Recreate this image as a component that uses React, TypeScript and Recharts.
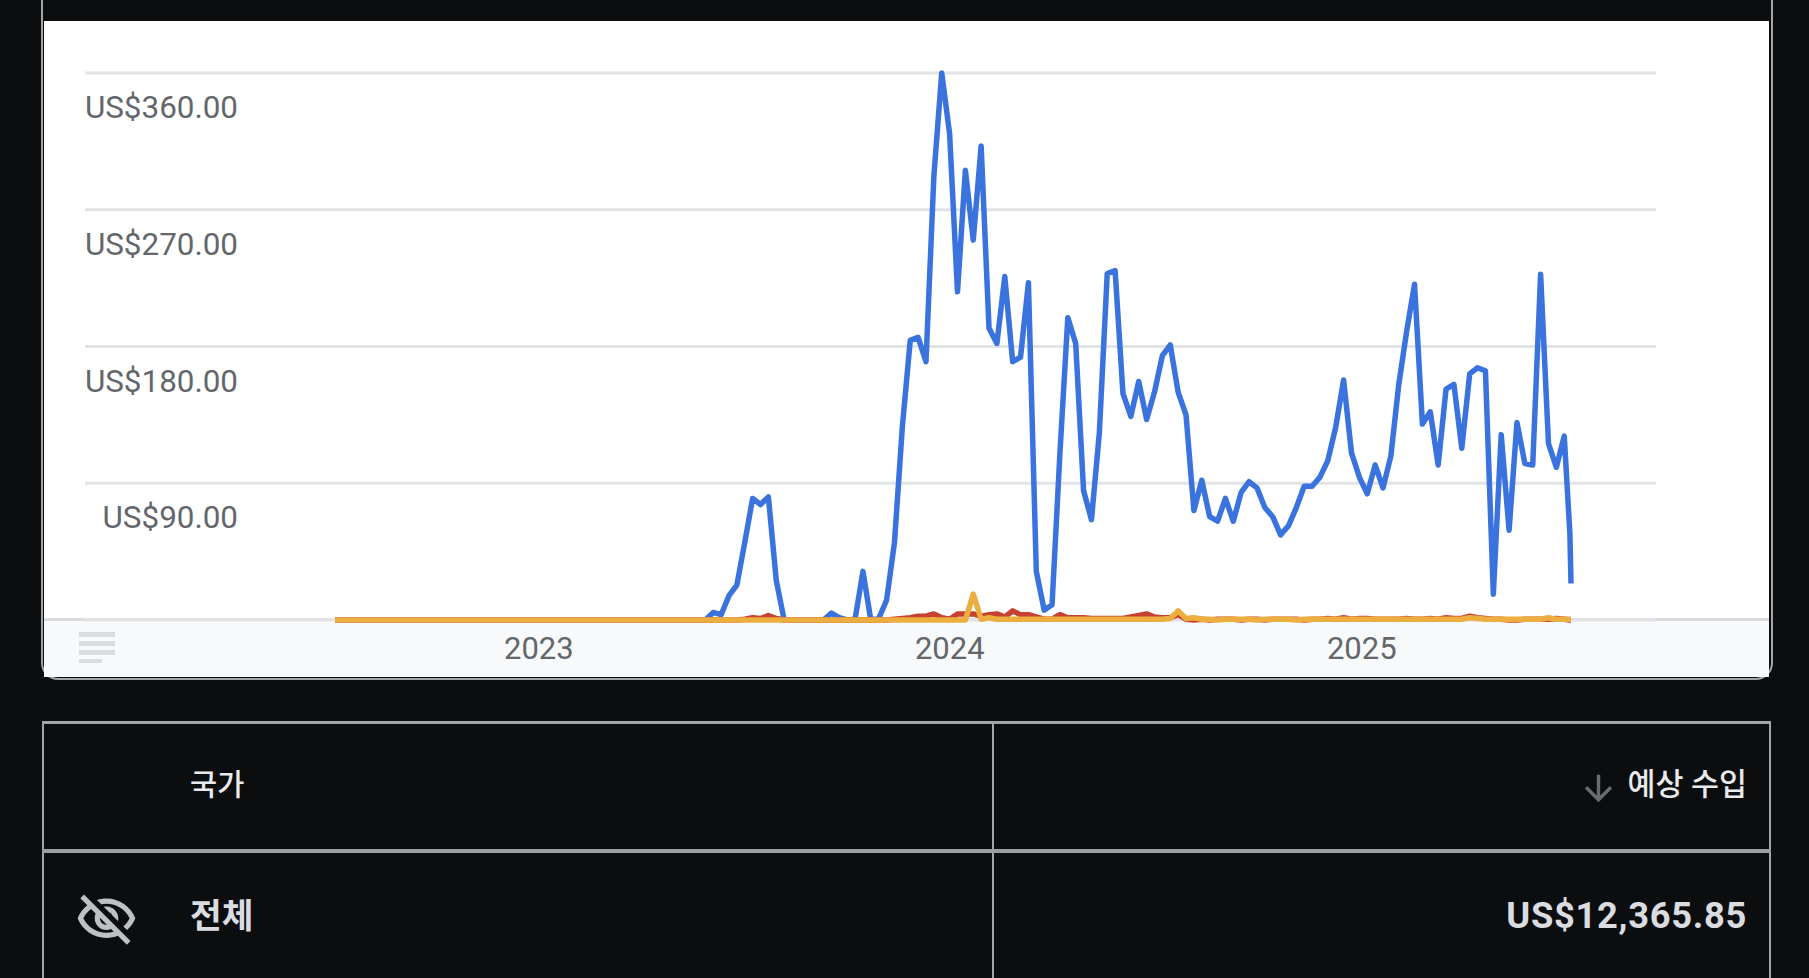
import { LineChart, Line, XAxis, YAxis, CartesianGrid } from 'recharts'

// weekly estimated revenue per series, 10 values per row
const blueValues = [
    0, 0, 0, 0, 0, 0, 0, 0, 0, 0,
    0, 0, 0, 0, 0, 0, 0, 0, 0, 0,
    0, 0, 0, 0, 0, 0, 0, 0, 0, 0,
    0, 0, 0, 0, 0, 0, 0, 0, 0, 0,
    0, 0, 0, 0, 0, 0, 0, 0, 5, 3.5,
    16, 23, 51, 80, 76, 81, 26, 0, 0, 0,
    0, 0, 0, 4.5, 1.5, 0, 0.5, 32, 0, 1,
    13, 51, 127, 184, 186, 170, 292, 360, 320, 216,
    296, 250, 312, 192, 182, 226, 170, 173, 222, 32,
    6.5, 10, 110, 199, 182, 85, 66, 123, 228, 230,
    149, 134, 157, 132, 150, 174, 181, 150, 135, 72,
    92, 68, 65, 80, 65, 84, 91, 87, 74, 68,
    56, 62, 74, 88, 88, 94, 105, 127, 158, 110,
    94, 83, 102, 87, 108, 155, 190, 221, 129, 137,
    102, 152, 155, 113, 162, 166, 164, 17, 122, 59,
    130, 103, 102, 227.5, 116, 100.5, 121, 57, 24,
]

const redValues = [
    0, 0, 0, 0, 0, 0, 0, 0, 0, 0,
    0, 0, 0, 0, 0, 0, 0, 0, 0, 0,
    0, 0, 0, 0, 0, 0, 0, 0, 0, 0,
    0, 0, 0, 0, 0, 0, 0, 0, 0, 0,
    0, 0, 0, 0, 0, 0, 0, 0, 0, 0,
    0, 0, 0.5, 1.5, 1, 3, 1, 0, 0, 0,
    0, 0, 0, 0, 0, 0, 0, 0, 0, 0,
    0, 0.5, 1, 1.5, 2.5, 2.5, 4, 1.5, 0.5, 4,
    4, 4, 2.5, 3.5, 4, 2, 6, 3.5, 3.5, 2,
    0.5, 0.5, 3.5, 1.5, 1.5, 1.5, 1, 1, 1, 1,
    1, 2, 3, 4, 2, 1.5, 1.5, 3.5, 0.5, 0,
    0.5, 0, 0.5, 0.5, 0.5, 0, 0.5, 0.5, 0, 0.5,
    0.5, 0.5, 0.5, 0, 0.5, 0.5, 1, 0.5, 1.5, 0.5,
    1, 1, 0.5, 0.5, 0.5, 0.5, 1, 0.5, 0.5, 1,
    0.5, 1.5, 1, 1, 2.5, 1.5, 1, 0.5, 0.5, 0,
    0, 0.5, 0.5, 0.5, 0.5, 1, 0.5, 0, 0,
]

const orangeValues = [
    0, 0, 0, 0, 0, 0, 0, 0, 0, 0,
    0, 0, 0, 0, 0, 0, 0, 0, 0, 0,
    0, 0, 0, 0, 0, 0, 0, 0, 0, 0,
    0, 0, 0, 0, 0, 0, 0, 0, 0, 0,
    0, 0, 0, 0, 0, 0, 0, 0, 0, 0,
    0, 0, 0, 0, 0, 0, 0, 0, 0, 0,
    0, 0, 0, 0, 0, 0, 0, 0, 0, 0,
    0, 0, 0, 0, 0, 0, 0, 0, 0, 0,
    0, 17, 0.5, 1.5, 0.5, 0.5, 0.5, 0.5, 0.5, 0.5,
    0.5, 0.5, 0.5, 0.5, 0.5, 0.5, 0.5, 0.5, 0.5, 0.5,
    0.5, 0.5, 0.5, 0.5, 0.5, 0.5, 1, 6, 1, 1.5,
    0.5, 0.5, 0, 0.5, 0.5, 0.5, 0.5, 0, 0.5, 0.5,
    0.5, 0.5, 0, 0.5, 0.5, 0.5, 0.5, 0.5, 0.5, 0.5,
    0.5, 0.5, 0.5, 0.5, 0.5, 0.5, 0.5, 0.5, 0.5, 0.5,
    0.5, 0.5, 0.5, 0.5, 1.5, 1, 0.5, 0.5, 0.5, 0.5,
    0.5, 0.5, 0.5, 0.5, 1.5, 0.5, 0.5, 0.5, 0.5,
]

const dayMs = 24 * 3600 * 1000
const firstWeek = Date.UTC(2022, 6, 3)
// the last two points are partial weeks, so they are only some days apart
const lastDays = [1097, 1098]
const yearTicks = [Date.UTC(2023, 0, 1), Date.UTC(2024, 0, 1), Date.UTC(2025, 0, 1)]
const valueTicks = [0, 90, 180, 270, 360]

const chartData = blueValues.map((blue, i) => ({
    day: firstWeek + (i <= 156 ? i * 7 : lastDays[i - 157]) * dayMs,
    blue,
    red: redValues[i],
    orange: orangeValues[i],
}))

const font = 'Roboto, "Noto Sans CJK KR", sans-serif'
const border = '#a3a4a6'

// the label sits under its grid line, not beside it
const ValueTick = ({ y, payload }: any) =>
    payload.value === 0 ? null : (
        <text x={238} y={y + 45} textAnchor="end" fontFamily={font} fontSize={31.4} fill="#63676c">
            {`US$${payload.value}.00`}
        </text>
    )

const box = (left: number, top: number, width: number, height: number, background: string): React.CSSProperties => ({
    position: 'absolute', left, top, width, height, background,
})

const App = () => {
    return (
        <div style={{ position: 'fixed', left: 0, top: 0, width: 1809, height: 978, background: '#0c0d0e', overflow: 'hidden', fontFamily: font }}>
            {/* chart card */}
            <div style={{ position: 'absolute', left: 41, top: -20, width: 1732, height: 700, border: `2px solid ${border}`, borderRadius: 17, boxSizing: 'border-box' }} />
            <div style={box(44, 21, 1725, 599, '#ffffff')} />
            <div style={box(44, 620, 1725, 57, '#f8f9fa')} />
            <div style={box(44, 618, 1725, 3, '#dadce0')} />
            <div style={box(79, 632, 36, 5, '#dadce0')} />
            <div style={box(79, 641, 36, 5, '#dadce0')} />
            <div style={box(79, 650, 36, 5, '#dadce0')} />
            <div style={box(79, 659, 23, 4, '#dadce0')} />

            <div style={{ position: 'absolute', left: 0, top: 0 }}>
                <LineChart width={1809} height={680} data={chartData} margin={{ top: 73, right: 153, left: 84, bottom: 0 }}>
                    <CartesianGrid horizontal vertical={false} stroke="#e2e3e4" strokeWidth={3} />
                    <XAxis
                        dataKey="day"
                        type="number"
                        domain={['dataMin', 'dataMax']}
                        ticks={yearTicks}
                        padding={{ left: 250, right: 85 }}
                        height={60}
                        axisLine={false}
                        tickLine={false}
                        tickFormatter={(v: number) => String(new Date(v).getUTCFullYear())}
                        tick={{ fontFamily: font, fontSize: 31, fill: '#63676c', dy: 9, dx: -1 }}
                        interval={0}
                    />
                    <YAxis
                        width={1}
                        domain={[0, 360]}
                        ticks={valueTicks}
                        axisLine={false}
                        tickLine={false}
                        tick={ValueTick}
                    />
                    <Line type="linear" dataKey="blue" stroke="#3a73de" strokeWidth={5.5} strokeLinejoin="round" dot={false} isAnimationActive={false} />
                    <Line type="linear" dataKey="red" stroke="#c8402f" strokeWidth={5.5} strokeLinejoin="round" dot={false} isAnimationActive={false} />
                    <Line type="linear" dataKey="orange" stroke="#edae40" strokeWidth={5.5} strokeLinejoin="round" dot={false} isAnimationActive={false} />
                </LineChart>
            </div>

            {/* table */}
            <div style={box(42, 721, 1729, 3, border)} />
            <div style={box(42, 721, 2, 257, border)} />
            <div style={box(1769, 721, 2, 257, border)} />
            <div style={box(992, 721, 2, 257, border)} />
            <div style={box(42, 849, 1729, 4, '#9d9ea0')} />

            <div style={{ position: 'absolute', left: 190, top: 765, fontSize: 29.5, lineHeight: '40px', fontWeight: 500, color: '#e8eaed' }}>국가</div>
            <div style={{ position: 'absolute', right: 62, top: 765, fontSize: 30.4, lineHeight: '40px', fontWeight: 500, color: '#e8eaed', whiteSpace: 'nowrap' }}>예상 수입</div>
            <svg style={{ position: 'absolute', left: 1578, top: 768 }} width={41} height={41} viewBox="0 0 24 24">
                <path fill="#6a6b6d" d="M20 12l-1.41-1.41L13 16.17V4h-2v12.17l-5.58-5.59L4 12l8 8 8-8z" />
            </svg>

            <svg style={{ position: 'absolute', left: 75, top: 888 }} width={63} height={63} viewBox="0 0 24 24">
                <path fill="#bdc1c6" d="M12 6c3.79 0 7.17 2.13 8.82 5.5-.59 1.22-1.42 2.27-2.41 3.12l1.41 1.41c1.39-1.23 2.49-2.77 3.18-4.53C21.27 7.11 17 4 12 4c-1.27 0-2.49.2-3.64.57l1.65 1.65C10.66 6.09 11.32 6 12 6zm-1.07 1.14L13 9.21c.57.25 1.03.71 1.28 1.28l2.07 2.07c.08-.34.14-.7.14-1.07C16.5 9.01 14.48 7 12 7c-.37 0-.72.05-1.07.14zM2.01 3.87l2.68 2.68C3.06 7.83 1.77 9.53 1 11.5 2.73 15.89 7 19 12 19c1.52 0 2.98-.29 4.32-.82l3.42 3.42 1.41-1.41L3.42 2.45 2.01 3.87zm7.5 7.5l2.61 2.61c-.04.01-.08.02-.12.02-1.38 0-2.5-1.12-2.5-2.5 0-.05.01-.08.01-.13zm-3.4-3.4l1.75 1.75c-.23.55-.36 1.15-.36 1.78 0 2.48 2.02 4.5 4.5 4.5.63 0 1.23-.13 1.77-.36l.98.98c-.88.24-1.8.38-2.75.38-3.79 0-7.17-2.13-8.82-5.5.7-1.43 1.72-2.61 2.93-3.53z" />
            </svg>
            <div style={{ position: 'absolute', left: 190, top: 893, fontSize: 34.5, lineHeight: '46px', fontWeight: 700, color: '#dadce0' }}>전체</div>
            <div style={{ position: 'absolute', right: 62, top: 893, fontSize: 36.3, lineHeight: '46px', fontWeight: 700, letterSpacing: 0.7, color: '#dadce0', whiteSpace: 'nowrap' }}>US$12,365.85</div>
        </div>
    )
}

export default App
